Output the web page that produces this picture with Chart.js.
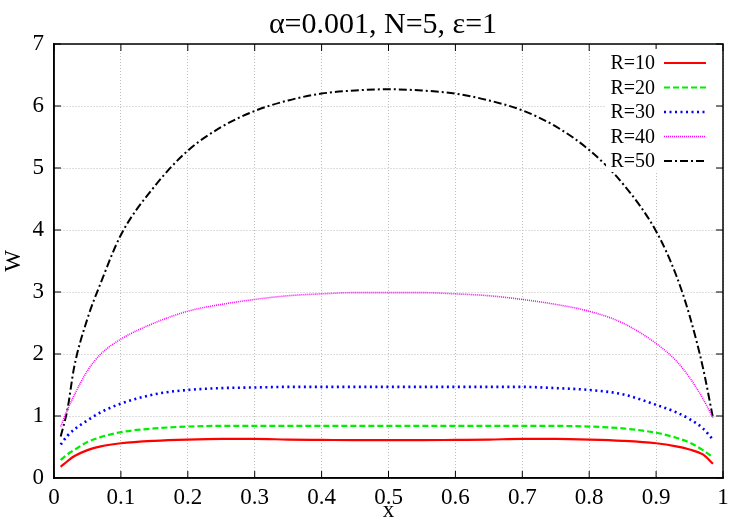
<!DOCTYPE html>
<html>
<head>
<meta charset="utf-8">
<script src="https://cdn.jsdelivr.net/npm/chart.js@4"></script>
<style>
  html, body { margin: 0; padding: 0; background: #fff; }
  #wrap { width: 750px; height: 525px; }
</style>
</head>
<body>
<div id="wrap"><canvas id="chart" width="750" height="525"></canvas></div>
<script>
// ---- data ----
const titleText = "α=0.001, N=5, ε=1";
const xs = [0.01, 0.02, 0.03, 0.05, 0.07, 0.1, 0.15, 0.2, 0.25, 0.3, 0.35, 0.4, 0.45, 0.5,
            0.55, 0.6, 0.65, 0.7, 0.75, 0.8, 0.85, 0.9, 0.93, 0.95, 0.97, 0.985];
const seriesLabels = ["R=10", "R=20", "R=30", "R=40", "R=50"];
const w10 = [0.18, 0.27, 0.35, 0.45, 0.51, 0.56, 0.60, 0.62, 0.63, 0.63, 0.62, 0.615, 0.61, 0.61,
             0.61, 0.615, 0.62, 0.63, 0.63, 0.62, 0.60, 0.56, 0.51, 0.46, 0.38, 0.23];
const w20 = [0.29, 0.38, 0.45, 0.58, 0.66, 0.74, 0.80, 0.83, 0.84, 0.84, 0.84, 0.84, 0.84, 0.84,
             0.84, 0.84, 0.84, 0.84, 0.84, 0.83, 0.80, 0.73, 0.65, 0.57, 0.45, 0.33];
const w30 = [0.54, 0.68, 0.78, 0.93, 1.06, 1.20, 1.35, 1.42, 1.45, 1.46, 1.47, 1.47, 1.47, 1.47,
             1.47, 1.47, 1.47, 1.47, 1.45, 1.42, 1.35, 1.18, 1.06, 0.95, 0.80, 0.62];
const w40 = [0.83, 1.10, 1.33, 1.73, 2.00, 2.24, 2.50, 2.69, 2.80, 2.88, 2.94, 2.97, 2.99, 2.99,
             2.99, 2.97, 2.94, 2.88, 2.80, 2.69, 2.50, 2.17, 1.89, 1.62, 1.28, 0.97];
const w50 = [0.67, 1.10, 1.78, 2.57, 3.15, 3.92, 4.70, 5.28, 5.66, 5.92, 6.09, 6.20, 6.25, 6.27,
             6.25, 6.20, 6.09, 5.93, 5.67, 5.29, 4.75, 3.98, 3.27, 2.62, 1.78, 0.97];
const seriesValues = [w10, w20, w30, w40, w50];

// ---- styles ----
const colors = ["#ff0000", "#00ee00", "#0000ff", "#ff00ff", "#000000"];
const dashes = [[], [6, 3], [2, 3.5], [1, 1], [8, 3, 2, 3]];
const widths = [2.2, 2.2, 2.6, 1.6, 2];
const serif = "'Liberation Serif', 'DejaVu Serif', serif";

const datasets = seriesLabels.map((lab, i) => ({
  label: lab,
  data: xs.map((x, j) => ({ x: x, y: seriesValues[i][j] })),
  borderColor: colors[i],
  borderDash: dashes[i],
  borderWidth: widths[i],
  pointRadius: 0,
  fill: false,
  cubicInterpolationMode: 'monotone'
}));

// frame, inward ticks, legend box and title (gnuplot look)
const gnuplotLook = {
  id: 'gnuplotLook',
  afterDatasetsDraw(chart) {
    const { ctx, chartArea: a, scales } = chart;
    ctx.save();
    // frame
    ctx.strokeStyle = '#000';
    ctx.lineWidth = 1.5;
    ctx.setLineDash([]);
    ctx.strokeRect(a.left, a.top, a.right - a.left, a.bottom - a.top);
    // inward ticks
    const tl = 7;
    ctx.lineWidth = 1;
    ctx.beginPath();
    scales.x.ticks.forEach(t => {
      const px = scales.x.getPixelForValue(t.value);
      ctx.moveTo(px, a.bottom); ctx.lineTo(px, a.bottom - tl);
      ctx.moveTo(px, a.top); ctx.lineTo(px, a.top + tl);
    });
    scales.y.ticks.forEach(t => {
      const py = scales.y.getPixelForValue(t.value);
      ctx.moveTo(a.left, py); ctx.lineTo(a.left + tl, py);
      ctx.moveTo(a.right, py); ctx.lineTo(a.right - tl, py);
    });
    ctx.stroke();

    // legend
    ctx.fillStyle = '#fff';
    ctx.fillRect(606, 49, 110, 123);
    ctx.font = "20px " + serif;
    ctx.textAlign = 'right';
    ctx.textBaseline = 'middle';
    chart.data.datasets.forEach((ds, i) => {
      const y = 63 + i * 24.5;
      ctx.fillStyle = '#000';
      ctx.fillText(ds.label, 655, y + 1);
      ctx.strokeStyle = ds.borderColor;
      ctx.lineWidth = ds.borderWidth;
      ctx.setLineDash(ds.borderDash);
      ctx.beginPath();
      ctx.moveTo(664, y);
      ctx.lineTo(706, y);
      ctx.stroke();
    });
    ctx.restore();
  },
  afterDraw(chart) {
    const { ctx } = chart;
    ctx.save();
    ctx.font = "30px " + serif;
    ctx.fillStyle = '#000';
    ctx.textAlign = 'center';
    ctx.textBaseline = 'alphabetic';
    ctx.fillText(titleText, 383, 33);
    ctx.restore();
  }
};

const gridDash = { display: true, color: '#000', width: 1.5, dash: [1, 2] };

new Chart(document.getElementById('chart'), {
  type: 'line',
  data: { datasets: datasets },
  options: {
    responsive: false,
    animation: false,
    layout: { padding: { top: 44, right: 27, left: 0, bottom: 0 } },
    plugins: { legend: { display: false }, title: { display: false }, tooltip: { enabled: false } },
    scales: {
      x: {
        type: 'linear', min: 0, max: 1,
        afterFit: s => { s.height = 47; },
        grid: { color: '#bdbdbd', lineWidth: 1, drawTicks: false },
        border: gridDash,
        ticks: {
          stepSize: 0.1, padding: 6, color: '#000',
          font: { family: serif, size: 23 },
          maxRotation: 0,
          callback: v => String(+v.toFixed(1))
        },
        title: { display: true, text: 'x', color: '#000', font: { family: serif, size: 23 }, padding: { top: 0, bottom: 0 } }
      },
      y: {
        type: 'linear', min: 0, max: 7,
        afterFit: s => { s.width = 54; },
        grid: { color: '#bdbdbd', lineWidth: 1, drawTicks: false },
        border: gridDash,
        ticks: {
          stepSize: 1, padding: 10, color: '#000',
          font: { family: serif, size: 23 }
        },
        title: { display: true, text: 'W', color: '#000', font: { family: serif, size: 23 }, padding: 0 }
      }
    }
  },
  plugins: [gnuplotLook]
});
</script>
</body>
</html>
